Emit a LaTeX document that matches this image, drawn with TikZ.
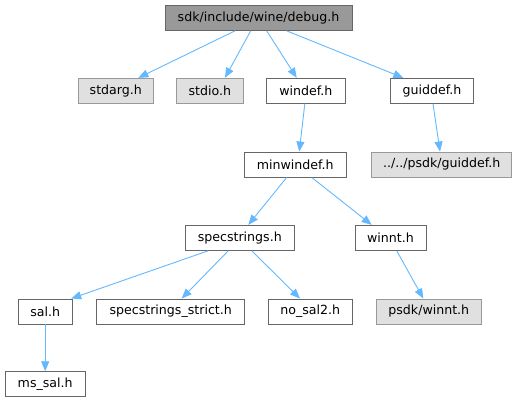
\documentclass[tikz,border=0pt]{standalone}
\usepackage{fontspec}
\setmainfont{DejaVu Sans}
\usetikzlibrary{arrows.meta}
\definecolor{edgeblue}{HTML}{63B8FF}
\definecolor{boxdark}{HTML}{666666}
\definecolor{boxmid}{HTML}{999999}
\definecolor{boxlight}{HTML}{E0E0E0}
\tikzset{
  filebox/.style={draw=boxdark, fill=white, line width=0.9pt, minimum height=25pt, inner sep=0pt, font=\fontsize{12.6}{14}\selectfont},
  extbox/.style={filebox, draw=boxmid, fill=boxlight},
  rootbox/.style={filebox, draw=boxdark, fill=boxmid},
  dep/.style={draw=edgeblue, line width=0.9pt, -{Triangle[length=10pt,width=8pt]}}
}
\begin{document}
\begin{tikzpicture}[x=1pt,y=-1pt]
\useasboundingbox (0,0) rectangle (519,403);
\node[rootbox, minimum width=187pt] (debug) at (258.5,17.9) {sdk/include/wine/debug.h};
\node[extbox, minimum width=75pt] (stdarg) at (115.8,90.8) {stdarg.h};
\node[extbox, minimum width=66.3pt] (stdio) at (209.9,90.8) {stdio.h};
\node[filebox, minimum width=78.3pt] (windef) at (305.8,90.8) {windef.h};
\node[filebox, minimum width=82.6pt] (guiddef) at (432,90.8) {guiddef.h};
\node[filebox, minimum width=102.7pt] (minwindef) at (295.3,164.5) {minwindef.h};
\node[extbox, minimum width=140pt] (psdkguiddef) at (441.7,164.5) {../../psdk/guiddef.h};
\node[filebox, minimum width=108.3pt] (specstrings) at (239.8,237.8) {specstrings.h};
\node[filebox, minimum width=71pt] (winnt) at (390.5,237.8) {winnt.h};
\node[filebox, minimum width=53.7pt] (sal) at (45.2,311.5) {sal.h};
\node[filebox, minimum width=148pt] (strict) at (170.7,311.5) {specstrings\_strict.h};
\node[filebox, minimum width=84pt] (nosal) at (310.3,311.5) {no\_sal2.h};
\node[extbox, minimum width=105.7pt] (psdkwinnt) at (428.8,311.5) {psdk/winnt.h};
\node[filebox, minimum width=80.3pt] (mssal) at (45.2,384.2) {ms\_sal.h};

\draw[dep] ([xshift=-23.5pt]debug.south) -- ([xshift=22.5pt]stdarg.north);
\draw[dep] ([xshift=-7.8pt]debug.south) -- ([xshift=15.1pt]stdio.north);
\draw[dep] ([xshift=8.2pt]debug.south) -- ([xshift=-9.1pt]windef.north);
\draw[dep] ([xshift=28.2pt]debug.south) -- ([xshift=-28.7pt]guiddef.north);
\draw[dep] ([xshift=-1pt]windef.south) -- ([xshift=4pt]minwindef.north);
\draw[dep] ([xshift=1pt]guiddef.south) -- ([xshift=-1.7pt]psdkguiddef.north);
\draw[dep] ([xshift=-8.6pt]minwindef.south) -- ([xshift=8.5pt]specstrings.north);
\draw[dep] ([xshift=16.4pt]minwindef.south) -- ([xshift=-18.8pt]winnt.north);
\draw[dep] ([xshift=6.2pt]winnt.south) -- ([xshift=-5.5pt]psdkwinnt.north);
\draw[dep] ([xshift=-31.5pt]specstrings.south) -- ([xshift=26pt]sal.north);
\draw[dep] ([xshift=-11.5pt]specstrings.south) -- ([xshift=11pt]strict.north);
\draw[dep] ([xshift=11.9pt]specstrings.south) -- ([xshift=-10.3pt]nosal.north);
\draw[dep] (sal.south) -- (mssal.north);
\end{tikzpicture}
\end{document}
